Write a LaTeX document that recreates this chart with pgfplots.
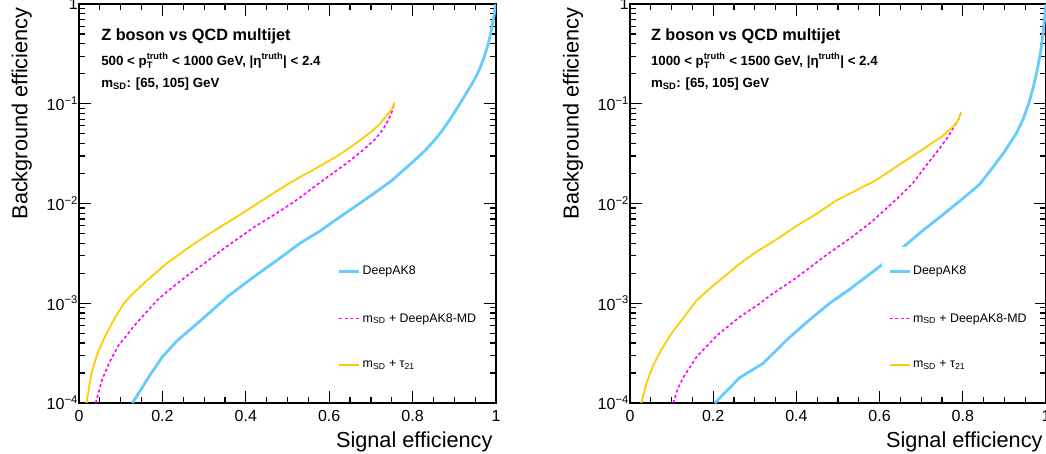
\documentclass[border=0pt]{standalone}
\usepackage{fontspec}
\setmainfont{Liberation Sans}
\usepackage{amsmath}
\usepackage{pgfplots}
\pgfplotsset{compat=1.18}
\definecolor{dakblue}{RGB}{102,204,255}
\definecolor{tauorange}{RGB}{255,204,0}
\definecolor{mdmag}{RGB}{255,0,255}
\newcommand{\fs}[1]{\fontsize{#1}{#1}\selectfont}
\tikzset{annot/.style={anchor=base west, inner sep=0pt}}

\pgfplotsset{
  rocstyle/.style={
    scale only axis, height=399pt,
    xmin=0, xmax=1, ymin=1e-4, ymax=1,
    xtick={0,0.2,0.4,0.6,0.8,1},
    xticklabels={0,0.2,0.4,0.6,0.8,1},
    minor x tick num=3,
    ytick={1e-4,1e-3,1e-2,1e-1,1},
    yticklabels={10\textsuperscript{−4},10\textsuperscript{−3},10\textsuperscript{−2},10\textsuperscript{−1},1},
    tick align=inside,
    major tick length=12pt, minor tick length=6pt,
    axis line style={line width=2pt},
    every tick/.style={black, line width=1.2pt},
    ticklabel style={font=\fs{16}},
    xticklabel style={anchor=base, yshift=-18.7pt},
    yticklabel style={anchor=east, inner xsep=1pt},
    xlabel={Signal efficiency}, ylabel={Background efficiency},
    label style={font=\fs{21.7}},
    x label style={at={(axis description cs:1,-0.1103)}, anchor=base east},
    y label style={at={(axis description cs:-0.1237,1)}, anchor=base east},
    legend style={at={(axis description cs:0.606,0.391)}, anchor=north west,
      draw=none, fill=white, font=\fs{12.4}, inner xsep=6pt, inner ysep=17pt,
      row sep=33pt},
    legend cell align=left,
    legend image code/.code={\draw[##1] (0pt,0pt) -- (20pt,0pt);},
  },
  blueroc/.style={color=dakblue, draw=dakblue, line width=2.8pt},
  magroc/.style={color=mdmag, draw=mdmag, line width=1.6pt, dash pattern=on 3pt off 2.5pt},
  orgroc/.style={color=tauorange, draw=tauorange, line width=1.8pt},
}

\begin{document}
\begin{tikzpicture}
\useasboundingbox (0,0) rectangle (1046pt,454pt);
% ---------------- left panel ----------------
\begin{axis}[ymode=log, rocstyle, width=417pt, at={(79pt,51pt)}, anchor=south west]
\addplot[blueroc] coordinates {
(0.128,1e-4) (0.15,1.4e-4) (0.17,1.9e-4) (0.20,2.9e-4) (0.235,4.2e-4) (0.27,5.6e-4)
(0.30,7.2e-4) (0.36,1.2e-3) (0.42,1.85e-3) (0.49,3.0e-3) (0.53,4.0e-3) (0.578,5.3e-3)
(0.61,6.6e-3) (0.66,9.2e-3) (0.70,1.2e-2) (0.75,1.7e-2) (0.80,2.6e-2) (0.83,3.4e-2)
(0.85,4.2e-2) (0.87,5.3e-2) (0.89,7.0e-2) (0.91,9.5e-2) (0.93,0.13) (0.95,0.18)
(0.96,0.22) (0.97,0.28) (0.98,0.38) (0.988,0.52) (0.994,0.72) (1.0,1.0)};
\addlegendentry{DeepAK8}
\addplot[magroc] coordinates {
(0.040,1e-4) (0.055,1.7e-4) (0.074,2.6e-4) (0.095,3.8e-4) (0.115,4.8e-4) (0.13,5.8e-4)
(0.16,8.0e-4) (0.19,1.1e-3) (0.22,1.4e-3) (0.26,1.9e-3) (0.30,2.5e-3) (0.35,3.6e-3)
(0.42,5.8e-3) (0.47,7.8e-3) (0.51,1.0e-2) (0.53,1.15e-2) (0.58,1.65e-2) (0.64,2.5e-2)
(0.68,3.4e-2) (0.71,4.4e-2) (0.73,5.6e-2) (0.742,6.9e-2) (0.750,8.2e-2) (0.756,0.100)};
\addlegendentry{m$_{\text{SD}}$ + DeepAK8-MD}
\addplot[orgroc] coordinates {
(0.018,1e-4) (0.03,2.0e-4) (0.045,3.2e-4) (0.062,4.6e-4) (0.085,7.0e-4) (0.108,1.0e-3)
(0.125,1.2e-3) (0.16,1.65e-3) (0.21,2.5e-3) (0.27,3.8e-3) (0.32,5.2e-3) (0.36,6.6e-3)
(0.40,8.4e-3) (0.47,1.30e-2) (0.51,1.65e-2) (0.58,2.4e-2) (0.62,3.0e-2) (0.66,3.9e-2)
(0.70,5.2e-2) (0.72,6.2e-2) (0.74,7.8e-2) (0.75,8.8e-2) (0.757,0.103)};
\addlegendentry{m$_{\text{SD}}$ + τ$_{\text{21}}$}
\node[annot, font=\fs{16.3}\bfseries] at (rel axis cs:0.053,0.908) {Z boson vs QCD multijet};
\node[annot, font=\fs{13.3}\bfseries] at (rel axis cs:0.053,0.847) {500 < p$^{\text{truth}}_{\text{T}}$ < 1000 GeV, |η$^{\text{truth}}$| < 2.4};
\node[annot, font=\fs{13.3}\bfseries] at (rel axis cs:0.053,0.791) {m$_{\text{SD}}$: [65, 105] GeV};
\end{axis}
% ---------------- right panel ----------------
\begin{axis}[ymode=log, rocstyle, width=416pt, at={(630pt,51pt)}, anchor=south west]
\addplot[blueroc] coordinates {
(0.204,1e-4) (0.264,1.8e-4) (0.32,2.5e-4) (0.377,4.3e-4) (0.433,6.9e-4) (0.48,1.0e-3)
(0.53,1.4e-3) (0.615,2.6e-3) (0.655,3.6e-3) (0.70,5.2e-3) (0.75,7.6e-3) (0.80,1.12e-2)
(0.84,1.55e-2) (0.872,2.3e-2) (0.90,3.3e-2) (0.928,5.0e-2) (0.945,7.0e-2) (0.96,0.105)
(0.97,0.15) (0.98,0.23) (0.987,0.33) (0.992,0.48) (0.996,0.68) (1.0,1.0)};
\addlegendentry{DeepAK8}
\addplot[magroc] coordinates {
(0.104,1e-4) (0.115,1.4e-4) (0.128,1.8e-4) (0.16,2.9e-4) (0.21,4.8e-4) (0.264,7.3e-4)
(0.31,9.8e-4) (0.337,1.2e-3) (0.40,1.8e-3) (0.465,2.9e-3) (0.53,4.5e-3) (0.58,6.5e-3)
(0.64,1.1e-2) (0.68,1.6e-2) (0.715,2.5e-2) (0.745,3.6e-2) (0.765,4.7e-2) (0.78,6.0e-2)
(0.79,7.0e-2) (0.796,8.2e-2)};
\addlegendentry{m$_{\text{SD}}$ + DeepAK8-MD}
\addplot[orgroc] coordinates {
(0.027,1e-4) (0.04,1.6e-4) (0.056,2.4e-4) (0.075,3.4e-4) (0.10,5.0e-4) (0.127,7.0e-4)
(0.16,1.07e-3) (0.20,1.5e-3) (0.264,2.5e-3) (0.305,3.3e-3) (0.361,4.6e-3) (0.401,6.0e-3)
(0.449,7.9e-3) (0.497,1.08e-2) (0.59,1.7e-2) (0.69,3.2e-2) (0.75,4.7e-2) (0.775,5.8e-2)
(0.787,6.6e-2) (0.796,8.2e-2)};
\addlegendentry{m$_{\text{SD}}$ + τ$_{\text{21}}$}
\node[annot, font=\fs{16.3}\bfseries] at (rel axis cs:0.050,0.908) {Z boson vs QCD multijet};
\node[annot, font=\fs{13.3}\bfseries] at (rel axis cs:0.050,0.847) {1000 < p$^{\text{truth}}_{\text{T}}$ < 1500 GeV, |η$^{\text{truth}}$| < 2.4};
\node[annot, font=\fs{13.3}\bfseries] at (rel axis cs:0.050,0.791) {m$_{\text{SD}}$: [65, 105] GeV};
\end{axis}
\end{tikzpicture}
\end{document}
